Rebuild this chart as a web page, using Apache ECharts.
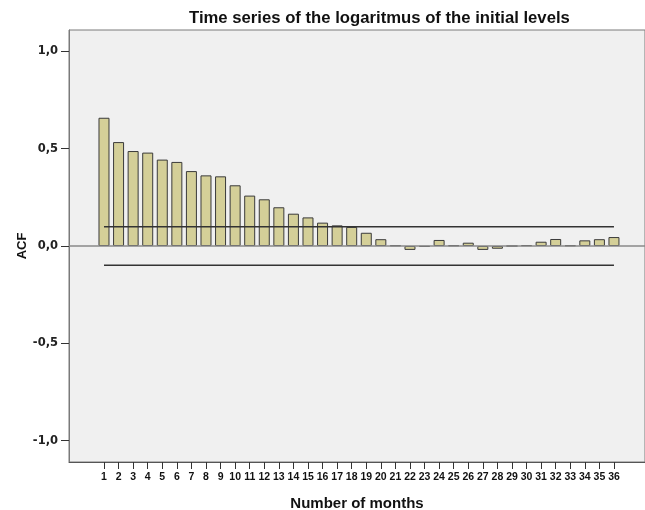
<!DOCTYPE html>
<html>
<head>
<meta charset="utf-8">
<script src="https://cdn.jsdelivr.net/npm/echarts@6/dist/echarts.min.js"></script>
<style>
html,body{margin:0;padding:0;background:#ffffff;}
#chart{width:645px;height:510px;}
</style>
</head>
<body>
<div id="chart"></div>
<script>
const lags = [1,2,3,4,5,6,7,8,9,10,11,12,13,14,15,16,17,18,19,20,21,22,23,24,25,26,27,28,29,30,31,32,33,34,35,36];
const acf = [0.659,0.534,0.488,0.480,0.444,0.432,0.385,0.363,0.358,0.312,0.259,0.240,0.199,0.166,0.147,0.120,0.106,0.098,0.068,0.035,0.003,-0.020,-0.004,0.031,0.003,0.017,-0.020,-0.014,0.000,0.004,0.022,0.036,0.003,0.029,0.035,0.046];
const upperLimit = [0.099, 0.099];
const lowerLimit = [-0.099, -0.099];
const limitLags = [1, 36];
const yTicks = [-1, -0.5, 0, 0.5, 1];
const yTickLabels = ['-1,0', '-0,5', '0,0', '0,5', '1,0'];
const xTickLabels = lags.map(String);
const titleText = 'Time series of the logaritmus of the initial levels';
const xName = 'Number of months';
const yName = 'ACF';

const chart = echarts.init(document.getElementById('chart'), null, {renderer: 'canvas'});
const font = '"Liberation Sans", Arial, sans-serif';
const tickFont = '"DejaVu Sans", "Liberation Sans", sans-serif';

chart.setOption({
  animation: false,
  backgroundColor: '#ffffff',
  title: {
    text: titleText,
    left: 184, top: 5,
    textStyle: {fontFamily: font, fontSize: 16.7, fontWeight: 'bold', color: '#111'}
  },
  grid: {
    left: 69, right: 0, top: 30, bottom: 48,
    outerBoundsMode: 'none',
    containLabel: false,
    show: true, backgroundColor: '#f0f0f0', borderColor: '#7a7a7a', borderWidth: 1
  },
  xAxis: {
    type: 'value',
    min: -1.402, max: 38.13,
    name: xName,
    nameLocation: 'middle',
    nameGap: 34,
    nameMoveOverlap: false,
    nameTextStyle: {fontFamily: font, fontSize: 15, fontWeight: 'bold', color: '#111'},
    axisLine: {show: true, onZero: false, lineStyle: {color: '#555', width: 1}},
    axisTick: {show: true, customValues: lags, length: 7, lineStyle: {color: '#333', width: 1}},
    axisLabel: {
      customValues: lags,
      formatter: v => xTickLabels[lags.indexOf(Math.round(v))] || '',
      fontFamily: font, fontSize: 10.5, fontWeight: 'bold', color: '#111', margin: 10
    },
    splitLine: {show: false}
  },
  yAxis: {
    type: 'value',
    min: -1.11, max: 1.11,
    name: yName,
    nameLocation: 'middle',
    nameGap: 40,
    nameMoveOverlap: false,
    nameRotate: 90,
    nameTextStyle: {fontFamily: font, fontSize: 13, fontWeight: 'bold', color: '#111'},
    axisLine: {show: true, onZero: false, lineStyle: {color: '#7a7a7a', width: 1}},
    axisTick: {show: true, customValues: yTicks, length: 8, lineStyle: {color: '#333'}},
    axisLabel: {
      customValues: yTicks,
      formatter: v => yTickLabels[yTicks.indexOf(Math.round(v * 10) / 10)] || '',
      fontFamily: tickFont, fontSize: 11.5, fontWeight: 'bold', color: '#222', margin: 11
    },
    splitLine: {show: false}
  },
  series: [
    {
      type: 'bar',
      data: lags.map((l, i) => [l, acf[i]]),
      barWidth: 11,
      itemStyle: {color: '#d4cf98', borderColor: '#3a3a3a', borderWidth: 1},
      markLine: {
        silent: true,
        symbol: 'none',
        label: {show: false},
        lineStyle: {color: '#8a8a8a', width: 1.5, type: 'solid'},
        data: [{yAxis: 0}]
      },
      z: 2
    },
    {
      type: 'line',
      data: limitLags.map((l, i) => [l, upperLimit[i]]),
      symbol: 'none',
      lineStyle: {color: '#333', width: 1.5},
      z: 3
    },
    {
      type: 'line',
      data: limitLags.map((l, i) => [l, lowerLimit[i]]),
      symbol: 'none',
      lineStyle: {color: '#333', width: 1.5},
      z: 3
    }
  ]
});
</script>
</body>
</html>
